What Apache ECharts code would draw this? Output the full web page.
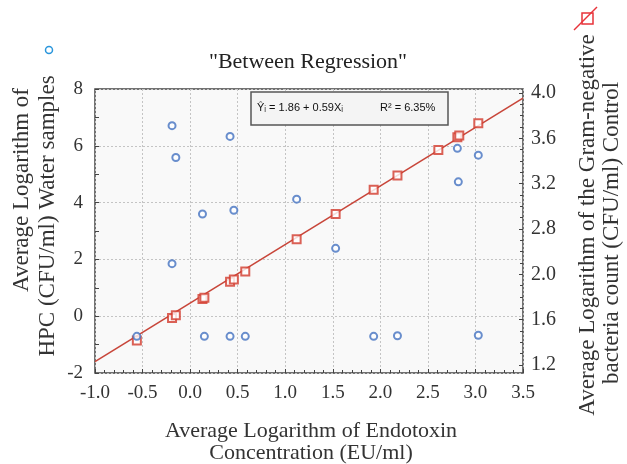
<!DOCTYPE html>
<html>
<head>
<meta charset="utf-8">
<script src="https://cdn.jsdelivr.net/npm/echarts@6/dist/echarts.min.js"></script>
<style>
  html, body { margin: 0; padding: 0; background: #fff; }
  #chart { width: 627px; height: 464px; }
</style>
</head>
<body>
<div id="chart"></div>
<script>
// HPC water samples (blue circles), x = endotoxin, y = left axis
const waterX = [-0.56, -0.19, -0.15, -0.19, 0.13, 0.15, 0.42, 0.46, 0.42, 0.58, 1.12, 1.53, 1.93, 2.18, 2.81, 2.82, 3.03, 3.03]
const waterY = [-0.71, 6.71, 5.59, 1.85, 3.60, -0.71, 6.33, 3.73, -0.71, -0.71, 4.12, 2.39, -0.71, -0.69, 5.91, 4.73, 5.67, -0.67]

// Gram-negative control (red squares), drawn against the left scale
const controlX = [-0.56, -0.19, -0.15, 0.13, 0.15, 0.42, 0.46, 0.58, 1.12, 1.53, 1.93, 2.18, 2.61, 2.81, 2.83, 3.03]
const controlY = [-0.86, -0.06, 0.03, 0.61, 0.65, 1.21, 1.29, 1.57, 2.71, 3.60, 4.45, 4.95, 5.85, 6.30, 6.36, 6.79]

// regression line end points
const lineX = [-1.0, 3.5]
const lineY = [-1.6, 7.68]

// right axis labels, as printed (evenly spaced)
const rightTickLabels = ['1.2', '1.6', '2.0', '2.8', '3.2', '3.6', '4.0']

const serif = '"Liberation Serif", "Times New Roman", serif'
const textColor = '#333'

const chart = echarts.init(document.getElementById('chart'))

const zip = (xs, ys) => xs.map((x, i) => [x, ys[i]])

const tickStyle = { color: '#444' }

const option = {
  animation: false,
  grid: [
    {
      left: 95, right: 104, top: 89, bottom: 91,
      show: true,
      backgroundColor: '#f9f9f9',
      borderColor: '#444',
      borderWidth: 1.5
    },
    { left: 95, right: 104, top: 93, bottom: 99, show: false }
  ],
  xAxis: [
    {
      type: 'value',
      gridIndex: 0,
      min: -1,
      max: 3.5,
      interval: 0.5,
      axisLine: { show: false, onZero: false },
      axisTick: { show: true, inside: true, length: 4, lineStyle: tickStyle },
      minorTick: { show: true, splitNumber: 5, length: 3, lineStyle: tickStyle },
      axisLabel: {
        margin: 11,
        fontFamily: serif,
        fontSize: 19,
        color: textColor,
        formatter: v => v.toFixed(1)
      },
      splitLine: { show: true, lineStyle: { color: '#c4c4c4', type: [2, 2] } }
    },
    { type: 'value', gridIndex: 1, min: 0, max: 1, show: false }
  ],
  yAxis: [
    {
      type: 'value',
      gridIndex: 0,
      min: -2,
      max: 8,
      interval: 2,
      axisLine: { show: false, onZero: false },
      axisTick: { show: true, inside: true, length: 4, lineStyle: tickStyle },
      minorTick: { show: true, splitNumber: 2, length: 4, lineStyle: tickStyle },
      axisLabel: { margin: 12, fontFamily: serif, fontSize: 19, color: textColor },
      splitLine: { show: true, lineStyle: { color: '#c4c4c4', type: [2, 2] } }
    },
    {
      type: 'value',
      gridIndex: 1,
      position: 'right',
      min: 0,
      max: 6,
      interval: 1,
      axisLine: { show: false, onZero: false },
      axisTick: { show: true, inside: true, length: 4, lineStyle: tickStyle },
      minorTick: { show: true, splitNumber: 4, length: 3, lineStyle: tickStyle },
      axisLabel: {
        margin: 8,
        fontFamily: serif,
        fontSize: 20,
        color: textColor,
        formatter: v => rightTickLabels[Math.round(v)]
      },
      splitLine: { show: false }
    }
  ],
  series: [
    {
      name: 'fit',
      type: 'line',
      data: zip(lineX, lineY),
      symbol: 'none',
      lineStyle: { color: '#c8463a', width: 1.6 },
      z: 2
    },
    {
      name: 'Control',
      type: 'scatter',
      data: zip(controlX, controlY),
      symbol: 'emptyRect',
      symbolSize: 8,
      itemStyle: { color: '#d23a2c', borderWidth: 1.5 },
      z: 3
    },
    {
      name: 'Water samples',
      type: 'scatter',
      data: zip(waterX, waterY),
      symbol: 'emptyCircle',
      symbolSize: 7,
      itemStyle: { color: '#4372c0', borderWidth: 1.8 },
      z: 4
    }
  ],
  graphic: [
    {
      type: 'text',
      x: 308, y: 62,
      style: {
        text: '"Between Regression"',
        font: '22px ' + serif,
        fill: '#222',
        textAlign: 'center',
        textVerticalAlign: 'middle'
      }
    },
    // regression equation box
    {
      type: 'rect',
      shape: { x: 251, y: 92, width: 197, height: 33 },
      style: { fill: '#f4f4f4', stroke: '#555', lineWidth: 1.5 },
      z: 10
    },
    {
      type: 'text',
      x: 257, y: 108,
      style: {
        text: 'Ŷᵢ = 1.86 + 0.59Xᵢ',
        font: '11px "Liberation Sans", Arial, sans-serif',
        fill: '#111',
        textVerticalAlign: 'middle'
      },
      z: 11
    },
    {
      type: 'text',
      x: 380, y: 108,
      style: {
        text: 'R² = 6.35%',
        font: '11px "Liberation Sans", Arial, sans-serif',
        fill: '#111',
        textVerticalAlign: 'middle'
      },
      z: 11
    },
    // left axis name
    {
      type: 'text',
      x: 22, y: 190,
      rotation: Math.PI / 2,
      style: {
        text: 'Average Logarithm of',
        font: '23px ' + serif,
        fill: textColor,
        textAlign: 'center',
        textVerticalAlign: 'middle'
      }
    },
    {
      type: 'text',
      x: 48, y: 216,
      rotation: Math.PI / 2,
      style: {
        text: 'HPC (CFU/ml) Water samples',
        font: '23px ' + serif,
        fill: textColor,
        textAlign: 'center',
        textVerticalAlign: 'middle'
      }
    },
    {
      type: 'circle',
      shape: { cx: 49, cy: 50, r: 3.5 },
      style: { fill: 'none', stroke: '#2a96dc', lineWidth: 1.5 }
    },
    // right axis name
    {
      type: 'text',
      x: 588, y: 225,
      rotation: Math.PI / 2,
      style: {
        text: 'Average Logarithm of the Gram-negative',
        font: '23px ' + serif,
        fill: textColor,
        textAlign: 'center',
        textVerticalAlign: 'middle'
      }
    },
    {
      type: 'text',
      x: 612, y: 233,
      rotation: Math.PI / 2,
      style: {
        text: 'bacteria count (CFU/ml) Control',
        font: '23px ' + serif,
        fill: textColor,
        textAlign: 'center',
        textVerticalAlign: 'middle'
      }
    },
    {
      type: 'rect',
      shape: { x: 582, y: 13, width: 11, height: 11 },
      style: { fill: 'none', stroke: '#e8333a', lineWidth: 1.5 }
    },
    {
      type: 'line',
      shape: { x1: 574, y1: 30, x2: 597, y2: 7 },
      style: { stroke: '#e8333a', lineWidth: 1.5 }
    },
    // x axis name
    {
      type: 'text',
      x: 311, y: 431,
      style: {
        text: 'Average Logarithm of Endotoxin',
        font: '22px ' + serif,
        fill: textColor,
        textAlign: 'center',
        textVerticalAlign: 'middle'
      }
    },
    {
      type: 'text',
      x: 311, y: 453,
      style: {
        text: 'Concentration (EU/ml)',
        font: '22px ' + serif,
        fill: textColor,
        textAlign: 'center',
        textVerticalAlign: 'middle'
      }
    }
  ]
}

chart.setOption(option)
</script>
</body>
</html>
